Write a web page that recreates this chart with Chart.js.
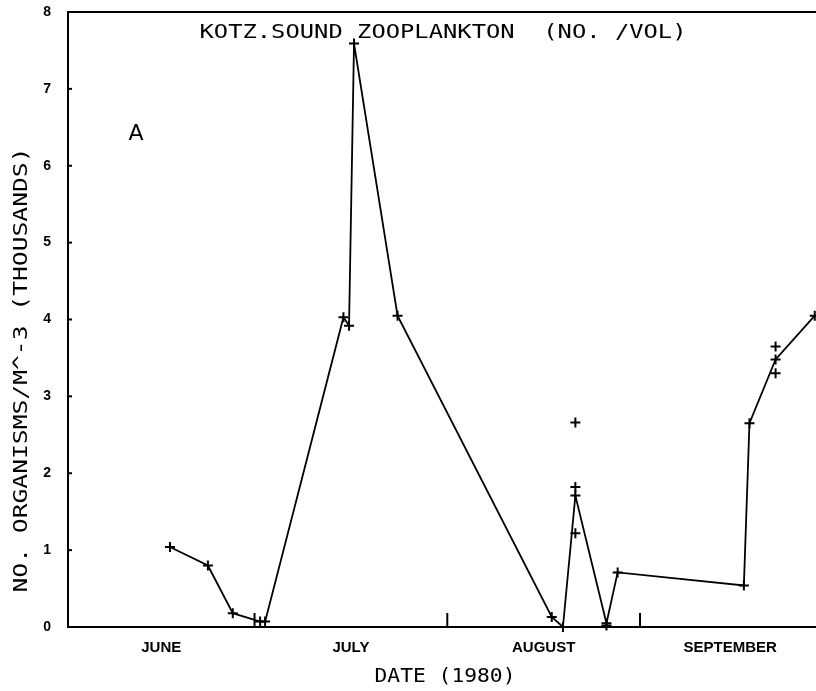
<!DOCTYPE html>
<html>
<head>
<meta charset="utf-8">
<script src="https://cdn.jsdelivr.net/npm/chart.js@4.4.1/dist/chart.umd.min.js"></script>
<style>
  html, body { margin: 0; padding: 0; background: #fff; }
  #wrap { width: 816px; height: 691px; position: relative; }
</style>
</head>
<body>
<div id="wrap"><canvas id="c" width="816" height="691"></canvas></div>
<script>
// ---- data (x = days since June 1, 1980; y = thousands of organisms per m^3) ----
const lineDays   = [16.4, 22.5, 26.5, 30.9, 31.7, 44.3, 45.2, 46.0, 53.0, 77.8, 79.6, 81.6, 86.6, 88.4, 108.7, 109.6, 113.8, 120.1];
const lineValues = [1.04, 0.80, 0.18, 0.07, 0.07, 4.03, 3.92, 7.59, 4.05, 0.13, 0.00, 1.71, 0.05, 0.71, 0.54, 2.65, 3.48, 4.05];
const repDays    = [81.6, 81.6, 81.6, 86.6, 113.8, 113.8];
const repValues  = [2.66, 1.82, 1.22, 0.02, 3.65, 3.30];
const monthNames  = ["JUNE", "JULY", "AUGUST", "SEPTEMBER"];
const monthMids   = [15, 45.5, 76.5, 106.5];
const monthStarts = [30, 61, 92];
const yTickValues = [0, 1, 2, 3, 4, 5, 6, 7, 8];
const chartTitle  = "KOTZ.SOUND ZOOPLANKTON  (NO. /VOL)";
const xTitle      = "DATE (1980)";
const yTitle      = "NO. ORGANISMS/M^-3 (THOUSANDS)";
const panelLabel  = "A";

const linePts = lineDays.map((d, i) => ({x: d, y: lineValues[i]}));
const repPts  = repDays.map((d, i) => ({x: d, y: repValues[i]}));

function stretchedText(ctx, text, cx, cy, font, width, angle) {
  ctx.save();
  ctx.font = font;
  ctx.textAlign = 'center';
  ctx.textBaseline = 'middle';
  const w = ctx.measureText(text).width;
  ctx.translate(cx, cy);
  if (angle) ctx.rotate(angle);
  ctx.scale(width / w, 1);
  ctx.fillText(text, 0, 0);
  ctx.restore();
}

const overlay = {
  id: 'overlay',
  afterDraw(chart) {
    const {ctx, chartArea: a, scales: {x, y}} = chart;
    ctx.save();
    ctx.strokeStyle = '#000';
    ctx.fillStyle = '#000';
    ctx.lineWidth = 2;
    // top frame line
    ctx.beginPath(); ctx.moveTo(a.left, a.top); ctx.lineTo(a.right, a.top); ctx.stroke();
    // month boundary ticks (pointing up into plot)
    monthStarts.forEach(d => {
      const px = x.getPixelForValue(d);
      ctx.beginPath(); ctx.moveTo(px, a.bottom); ctx.lineTo(px, a.bottom - 14); ctx.stroke();
    });
    // small inward y ticks
    yTickValues.forEach(v => {
      const py = y.getPixelForValue(v);
      ctx.beginPath(); ctx.moveTo(a.left, py); ctx.lineTo(a.left + 4, py); ctx.stroke();
    });
    // texts
    stretchedText(ctx, chartTitle, 443, 33, '20px "DejaVu Sans Mono"', 487, 0);
    stretchedText(ctx, xTitle, 445, 677, '20px "DejaVu Sans Mono"', 141, 0);
    stretchedText(ctx, yTitle, 22, 370, '20px "DejaVu Sans Mono"', 445, -Math.PI / 2);
    ctx.font = '22px "DejaVu Sans"';
    ctx.textAlign = 'center'; ctx.textBaseline = 'middle';
    ctx.fillText(panelLabel, 136, 134);
    ctx.restore();
  }
};

new Chart(document.getElementById('c'), {
  type: 'scatter',
  data: {
    datasets: [
      {
        data: linePts,
        showLine: true,
        borderColor: '#000',
        borderWidth: 1.8,
        backgroundColor: '#000',
        pointStyle: 'cross',
        pointRadius: 5,
        pointBorderWidth: 2,
        pointBorderColor: '#000',
        tension: 0,
        clip: false
      },
      {
        data: repPts,
        showLine: false,
        pointStyle: 'cross',
        pointRadius: 5,
        pointBorderWidth: 2,
        pointBorderColor: '#000',
        backgroundColor: '#000',
        clip: false
      }
    ]
  },
  options: {
    responsive: false,
    animation: false,
    devicePixelRatio: 1,
    layout: { autoPadding: false, padding: { top: 12, right: 0, left: 0, bottom: 0 } },
    plugins: { legend: { display: false }, tooltip: { enabled: false }, title: { display: false } },
    scales: {
      x: {
        type: 'linear',
        min: 0,
        max: 120.3,
        afterFit: s => { s.height = 64; s.paddingLeft = 0; s.paddingRight = 0; },
        afterBuildTicks: s => { s.ticks = monthMids.map(v => ({value: v})); },
        grid: { display: false, drawTicks: false },
        border: { display: true, color: '#000', width: 2 },
        ticks: {
          autoSkip: false,
          maxRotation: 0,
          padding: 12,
          color: '#000',
          font: { family: '"Liberation Sans", Arial, sans-serif', weight: 'bold', size: 15 },
          callback: (v) => { const i = monthMids.indexOf(v); return i >= 0 ? monthNames[i] : ''; }
        }
      },
      y: {
        type: 'linear',
        min: 0,
        max: 8,
        afterFit: s => { s.width = 68; s.paddingTop = 0; s.paddingBottom = 0; },
        afterBuildTicks: s => { s.ticks = yTickValues.map(v => ({value: v})); },
        grid: { display: false, drawTicks: false },
        border: { display: true, color: '#000', width: 2 },
        ticks: {
          padding: 17,
          color: '#000',
          font: { family: '"Liberation Sans", Arial, sans-serif', weight: 'bold', size: 14 },
          callback: v => String(v)
        }
      }
    }
  },
  plugins: [overlay]
});
</script>
</body>
</html>
